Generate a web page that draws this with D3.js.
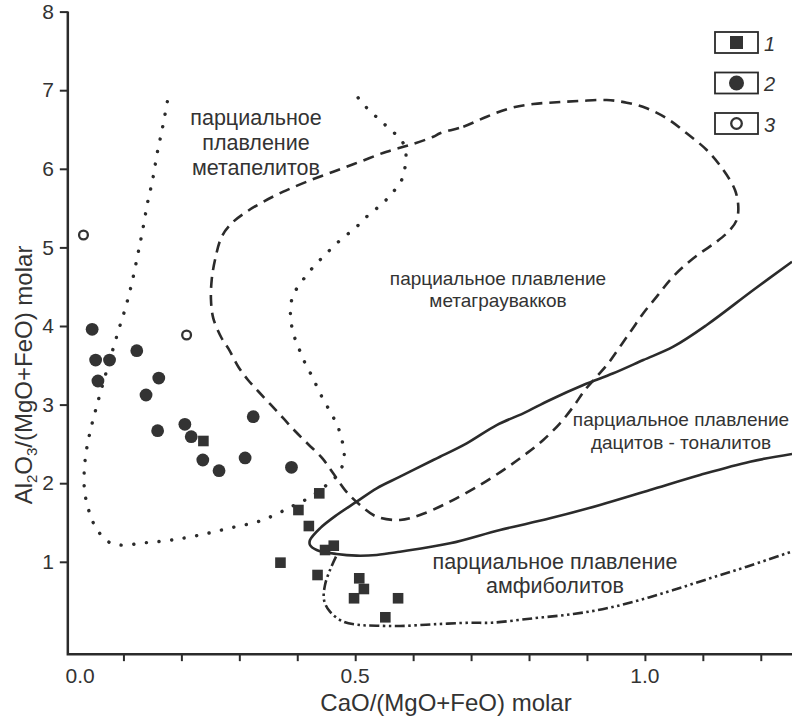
<!DOCTYPE html>
<html><head><meta charset="utf-8">
<script src="https://cdn.jsdelivr.net/npm/d3@7/dist/d3.min.js"></script>
<style>html,body{margin:0;padding:0;background:#fff;}svg{display:block;}</style>
</head><body><div id="chart"></div>
<script>
// ---------- data ----------
const xTicks = [0.1,0.2,0.3,0.4,0.5,0.6,0.7,0.8,0.9,1.0,1.1,1.2];
const xTickLabels = [0.0, 0.5, 1.0];
const yTicks = [1,2,3,4,5,6,7,8];
const legendLabels = ["1","2","3"];

// series 1 (filled squares)
const series1 = [[0.438,1.871],[0.402,1.659],[0.420,1.455],[0.448,1.150],[0.463,1.205],[0.371,0.989],
  [0.435,0.832],[0.507,0.790],[0.515,0.654],[0.498,0.536],[0.574,0.536],[0.552,0.294],[0.238,2.537]];
// series 2 (filled circles)
const series2 = [[0.046,3.958],[0.052,3.567],[0.076,3.567],[0.056,3.300],[0.123,3.686],[0.161,3.338],
  [0.139,3.122],[0.159,2.668],[0.206,2.749],[0.217,2.592],[0.237,2.295],[0.265,2.159],[0.310,2.321],
  [0.324,2.846],[0.390,2.202]];
// series 3 (open circles)
const series3 = [[0.031,5.158],[0.209,3.885]];

// field boundaries
const metapeliteField = [[0.1757,6.854],[0.1678,6.536],[0.1584,6.205],[0.1505,5.866],[0.1412,5.552],[0.1332,5.221],
  [0.1246,4.903],[0.1153,4.573],[0.1044,4.254],[0.0911,3.936],[0.0785,3.618],[0.0664,3.313],[0.0544,2.995],
  [0.0440,2.702],[0.0362,2.422],[0.0324,2.168],[0.0328,1.913],[0.0394,1.672],[0.0509,1.455],[0.0716,1.265],
  [0.0941,1.214],[0.1389,1.243],[0.1833,1.277],[0.2321,1.341],[0.2839,1.430],[0.3357,1.519],[0.3788,1.659],
  [0.3990,1.735],[0.4191,1.808],[0.4375,1.901],[0.4553,2.006],[0.4708,2.117],[0.4798,2.270],[0.4807,2.422],
  [0.4755,2.588],[0.4691,2.740],[0.4582,2.889],[0.4479,3.029],[0.4363,3.186],[0.4277,3.335],[0.4163,3.482],
  [0.4077,3.631],[0.3990,3.780],[0.3921,3.940],[0.3887,4.098],[0.3887,4.267],[0.3944,4.416],[0.4077,4.564],
  [0.4208,4.691],[0.4363,4.818],[0.4518,4.933],[0.4681,5.052],[0.4853,5.158],[0.5026,5.263],[0.5186,5.383],
  [0.5359,5.489],[0.5532,5.603],[0.5670,5.718],[0.5802,5.858],[0.5860,6.019],[0.5877,6.176],[0.5830,6.324],
  [0.5670,6.459],[0.5485,6.579],[0.5312,6.697],[0.5152,6.812],[0.5014,6.939]];
const metagraywackeField = [[0.6464,6.452],[0.6866,6.536],[0.7270,6.663],[0.7672,6.770],[0.8074,6.824],[0.8478,6.846],
  [0.8880,6.863],[0.9341,6.875],[0.9686,6.841],[1.0031,6.770],[1.0376,6.642],[1.0721,6.452],[1.1067,6.239],
  [1.1353,5.985],[1.1555,5.730],[1.1612,5.518],[1.1584,5.349],[1.1469,5.221],[1.1239,5.073],[1.0951,4.925],
  [1.0663,4.754],[1.0433,4.585],[1.0204,4.373],[0.9972,4.162],[0.9772,3.949],[0.9570,3.737],[0.9368,3.525],
  [0.9168,3.355],[0.8966,3.186],[0.8764,2.973],[0.8535,2.762],[0.8246,2.550],[0.7960,2.380],[0.7642,2.210],
  [0.7154,1.977],[0.6579,1.744],[0.6118,1.595],[0.5773,1.532],[0.5371,1.574],[0.5083,1.723],[0.4824,1.913],
  [0.4617,2.130],[0.4427,2.321],[0.4185,2.499],[0.3961,2.664],[0.3754,2.830],[0.3530,3.008],[0.3322,3.173],
  [0.3150,3.313],[0.2982,3.482],[0.2810,3.716],[0.2696,3.844],[0.2551,4.098],[0.2511,4.331],[0.2523,4.585],
  [0.2580,4.840],[0.2696,5.136],[0.2868,5.307],[0.3127,5.454],[0.3414,5.581],[0.3759,5.709],[0.4163,5.836],
  [0.4622,5.963],[0.5083,6.090],[0.5544,6.218],[0.5946,6.303],[0.6348,6.408]];
const daciteField = [[1.2539,4.818],[1.1871,4.458],[1.1067,4.013],[1.0490,3.737],[0.9972,3.567],[0.9455,3.398],
  [0.8937,3.249],[0.8362,3.059],[0.7901,2.889],[0.7442,2.740],[0.6924,2.508],[0.6464,2.337],[0.6348,2.295],
  [0.5773,2.083],[0.5371,1.935],[0.5026,1.765],[0.4681,1.595],[0.4392,1.426],[0.4220,1.277],[0.4220,1.214],
  [0.4335,1.150],[0.4681,1.099],[0.5026,1.078],[0.5371,1.087],[0.5773,1.128],[0.6636,1.235],[0.7499,1.405],
  [0.8362,1.553],[0.9225,1.723],[1.0088,1.913],[1.0951,2.104],[1.1814,2.274],[1.2539,2.372]];
const amphiboliteField = [[0.4669,1.065],[0.4565,0.896],[0.4479,0.705],[0.4462,0.514],[0.4565,0.365],[0.4795,0.238],
  [0.5083,0.196],[0.5371,0.187],[0.5773,0.183],[0.6348,0.205],[0.6981,0.225],[0.7356,0.225],[0.8074,0.281],
  [0.8764,0.336],[0.9341,0.408],[0.9915,0.514],[1.0490,0.641],[1.1123,0.790],[1.1757,0.938],[1.2447,1.108],
  [1.2539,1.131]];

const fieldTexts = {
  metapelite: ["парциальное","плавление","метапелитов"],
  metagraywacke: ["парциальное плавление","метаграувакков"],
  dacite: ["парциальное плавление","дацитов - тоналитов"],
  amphibolite: ["парциальное плавление","амфиболитов"]
};
const xTitle = "CaO/(MgO+FeO) molar";

// ---------- layout ----------
const W = 792, H = 717;
const FONT = "'Liberation Sans', Arial, Helvetica, sans-serif";
const INK = "#2b2b2b";
const x = d3.scaleLinear().domain([0, 1]).range([65.5, 644.9]);
const y = d3.scaleLinear().domain([0, 8]).range([640.4, 11.6]);
const xSpine = 0.004, ySpine = -0.175, yTop = 8;

const svg = d3.select("#chart").append("svg").attr("width", W).attr("height", H)
  .style("font-family", FONT);

svg.append("defs").append("clipPath").attr("id","plotclip").append("rect")
  .attr("x", x(xSpine)).attr("y", 0).attr("width", W - x(xSpine)).attr("height", y(ySpine));

// axes
const yAxis = d3.axisLeft(y).tickValues(yTicks).tickSize(8).tickPadding(6).tickFormat(d3.format("d"));
const gy = svg.append("g").attr("transform", `translate(${x(xSpine)},0)`).call(yAxis);
gy.select(".domain").remove();
gy.selectAll(".tick line").attr("stroke", INK).attr("stroke-width", 2);
gy.selectAll(".tick text").attr("font-size", 21).attr("fill", "#333").attr("font-family", FONT);

const xAxis = d3.axisBottom(x).tickValues(xTicks).tickSize(7).tickFormat("");
const gx = svg.append("g").attr("transform", `translate(0,${y(ySpine)})`).call(xAxis);
gx.select(".domain").remove();
gx.selectAll(".tick line").attr("stroke", INK).attr("stroke-width", 2);

svg.selectAll(".xlab").data(xTickLabels).enter().append("text")
  .attr("x", d => x(d)).attr("y", 683)
  .attr("text-anchor", d => d === 0 ? "start" : "middle")
  .attr("font-size", 21).attr("fill", "#333")
  .text(d => d.toFixed(1));

// spines
svg.append("path")
  .attr("d", `M${x(xSpine)},${y(yTop)}V${y(ySpine)}H${W}`)
  .attr("fill","none").attr("stroke", INK).attr("stroke-width", 2.5);

// titles
svg.append("text").attr("x", 446).attr("y", 711).attr("text-anchor","middle")
  .attr("font-size", 24).attr("fill","#333").text(xTitle);

const yt = svg.append("text").attr("transform","translate(32,375) rotate(-90)")
  .attr("text-anchor","middle").attr("font-size", 24).attr("fill","#333");
yt.append("tspan").text("Al");
yt.append("tspan").attr("font-size", 15).attr("dy", 5).text("2");
yt.append("tspan").attr("dy", -5).text("O");
yt.append("tspan").attr("font-size", 15).attr("dy", 5).text("3");
yt.append("tspan").attr("dy", -5).text("/(MgO+FeO) molar");

// field boundaries
const plot = svg.append("g").attr("clip-path","url(#plotclip)");
const line = d3.line().x(d => x(d[0])).y(d => y(d[1])).curve(d3.curveCatmullRom.alpha(0.5));
const lineClosed = d3.line().x(d => x(d[0])).y(d => y(d[1])).curve(d3.curveCatmullRomClosed.alpha(0.5));

plot.append("path").attr("d", line(metapeliteField)).attr("fill","none")
  .attr("stroke", INK).attr("stroke-width", 3.4).attr("stroke-linecap","round")
  .attr("stroke-dasharray","0.1 12.6");
plot.append("path").attr("d", lineClosed(metagraywackeField)).attr("fill","none")
  .attr("stroke", INK).attr("stroke-width", 2.6).attr("stroke-dasharray","11 7");
plot.append("path").attr("d", line(daciteField)).attr("fill","none")
  .attr("stroke", INK).attr("stroke-width", 2.6);
plot.append("path").attr("d", line(amphiboliteField)).attr("fill","none")
  .attr("stroke", INK).attr("stroke-width", 2.6).attr("stroke-dasharray","10 3.5 2.5 3.5 2.5 3.5");

// field labels
const labelStyle = [
  {key:"metapelite", cx:256, y0:125, dy:25, size:21.5},
  {key:"metagraywacke", cx:498, y0:285, dy:22, size:19},
  {key:"dacite", cx:681, y0:426, dy:22.5, size:19},
  {key:"amphibolite", cx:555, y0:568.5, dy:24.5, size:21.5}
];
labelStyle.forEach(s => {
  fieldTexts[s.key].forEach((t,i) => {
    svg.append("text").attr("x", s.cx).attr("y", s.y0 + i*s.dy).attr("text-anchor","middle")
      .attr("font-size", s.size).attr("fill","#333").text(t);
  });
});

// markers
const MK = "#333";
const pts = svg.append("g");
pts.selectAll(".s1").data(series1).enter().append("rect")
  .attr("x", d => x(d[0]) - 5.3).attr("y", d => y(d[1]) - 5.3)
  .attr("width", 10.6).attr("height", 10.6).attr("fill", MK);
pts.selectAll(".s2").data(series2).enter().append("circle")
  .attr("cx", d => x(d[0])).attr("cy", d => y(d[1])).attr("r", 6.4).attr("fill", MK);
pts.selectAll(".s3").data(series3).enter().append("circle")
  .attr("cx", d => x(d[0])).attr("cy", d => y(d[1])).attr("r", 4.4)
  .attr("fill", "#fff").attr("stroke", MK).attr("stroke-width", 2.3);

// legend
const legTop = [32, 72.5, 113];
const BW = 43, BH = 21;
const leg = svg.append("g");
legendLabels.forEach((lab, i) => {
  const g = leg.append("g").attr("transform", `translate(715,${legTop[i]})`);
  g.append("rect").attr("x",0).attr("y",0).attr("width",BW).attr("height",BH)
    .attr("fill","#fff").attr("stroke", INK).attr("stroke-width",1.8);
  if (i === 0) g.append("rect").attr("x", BW/2-6.5).attr("y", BH/2-6.5).attr("width",13).attr("height",13).attr("fill", MK);
  if (i === 1) g.append("circle").attr("cx",BW/2).attr("cy",BH/2).attr("r",7.5).attr("fill", MK);
  if (i === 2) g.append("circle").attr("cx",BW/2).attr("cy",BH/2).attr("r",5.3).attr("fill","#fff")
      .attr("stroke", MK).attr("stroke-width",2.3);
  g.append("text").attr("x", 49).attr("y", 18.5).attr("font-size", 20)
    .attr("font-style","italic").attr("fill","#333").text(lab);
});
</script>
</body></html>
